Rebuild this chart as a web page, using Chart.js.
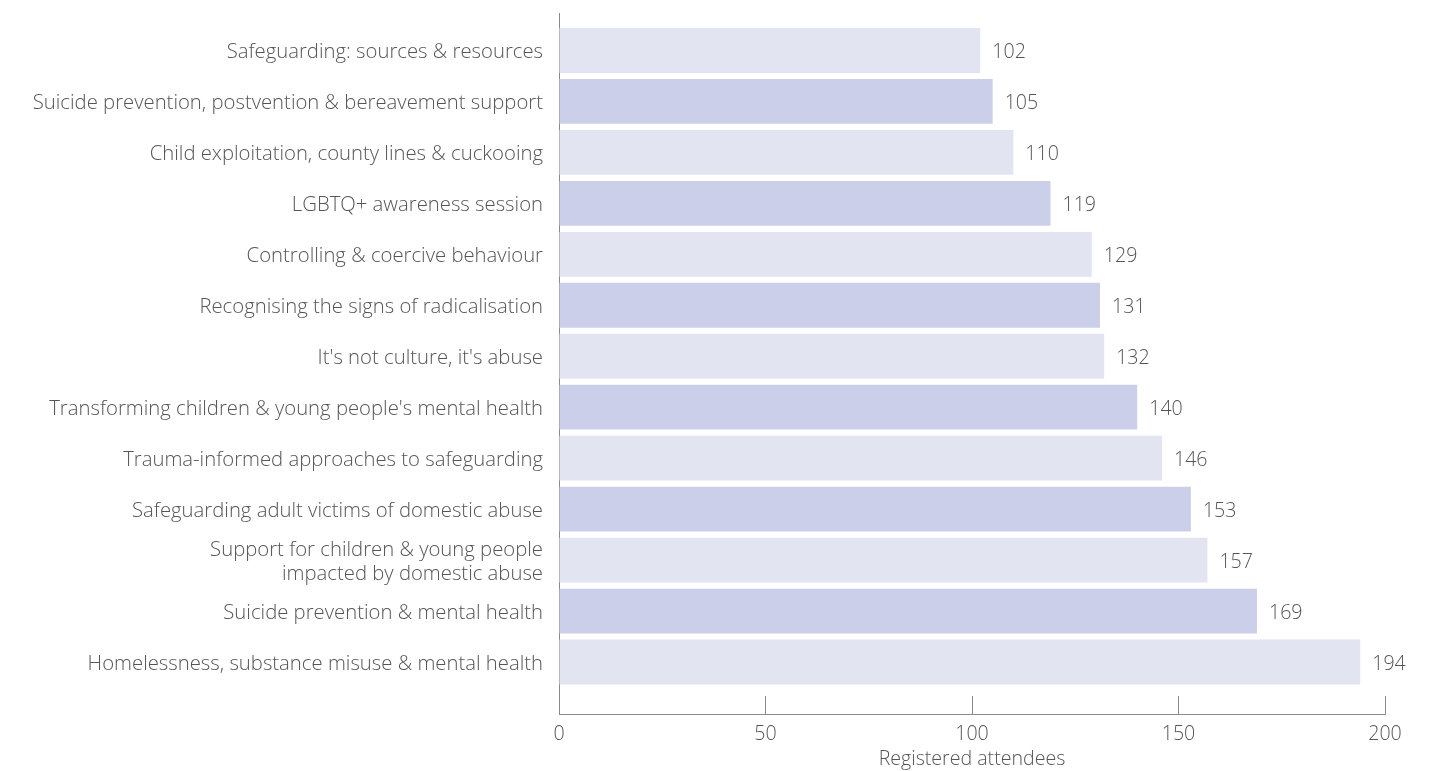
<!DOCTYPE html>
<html>
<head>
<meta charset="utf-8">
<script src="https://cdn.jsdelivr.net/npm/chart.js@4/dist/chart.umd.min.js"></script>
<style>
  html, body { margin: 0; padding: 0; background: #fff; }
  #wrap { width: 1436px; height: 771px; position: relative; }
</style>
</head>
<body>
<div id="wrap"><canvas id="chart"></canvas></div>
<script>
const topics = [
    "Safeguarding: sources & resources",
    "Suicide prevention, postvention & bereavement support",
    "Child exploitation, county lines & cuckooing",
    "LGBTQ+ awareness session",
    "Controlling & coercive behaviour",
    "Recognising the signs of radicalisation",
    "It's not culture, it's abuse",
    "Transforming children & young people's mental health",
    "Trauma-informed approaches to safeguarding",
    "Safeguarding adult victims of domestic abuse",
    ["Support for children & young people", "impacted by domestic abuse"],
    "Suicide prevention & mental health",
    "Homelessness, substance misuse & mental health"
];
const attendees = [102, 105, 110, 119, 129, 131, 132, 140, 146, 153, 157, 169, 194];
const xTicks = [0, 50, 100, 150, 200];

const lightBar = '#e2e4f2';
const darkBar = '#cbcfe9';
const textGrey = '#555555';
const fontFamily = '"Open Sans", "Liberation Sans", Arial, sans-serif';
const fontSize = 19.6;

const barColours = attendees.map((_, i) => i % 2 === 0 ? lightBar : darkBar);

const valueLabels = {
    id: 'valueLabels',
    afterDatasetsDraw(chart) {
        const ctx = chart.ctx;
        const meta = chart.getDatasetMeta(0);
        ctx.save();
        ctx.font = '300 ' + fontSize + 'px ' + fontFamily;
        ctx.fillStyle = textGrey;
        ctx.textAlign = 'left';
        ctx.textBaseline = 'middle';
        meta.data.forEach((bar, i) => {
            ctx.fillText(attendees[i], bar.x + 12, bar.y + 2);
        });
        ctx.restore();
    }
};

new Chart(document.getElementById('chart'), {
    type: 'bar',
    data: {
        datasets: [{
            data: attendees.map((v, i) => ({ x: v, y: i })),
            backgroundColor: barColours,
            borderWidth: 0,
            categoryPercentage: 0.88,
            barPercentage: 1
        }]
    },
    options: {
        indexAxis: 'y',
        responsive: true,
        maintainAspectRatio: false,
        animation: false,
        layout: { padding: { top: 13, right: 51, bottom: 0, left: 0 } },
        plugins: {
            legend: { display: false },
            tooltip: { enabled: false }
        },
        scales: {
            y: {
                type: 'linear',
                reverse: true,
                offset: false,
                min: -0.735,
                max: 13.02,
                afterBuildTicks: (scale) => {
                    scale.ticks = topics.map((_, i) => ({ value: i }));
                },
                afterFit: (scale) => {
                    scale.width = 559;
                    scale.paddingTop = 0;
                    scale.paddingBottom = 0;
                },
                grid: { offset: false, drawOnChartArea: false, drawTicks: false },
                border: { display: true, color: '#8a8a8a', width: 1 },
                ticks: {
                    autoSkip: false,
                    padding: 16,
                    labelOffset: 2,
                    color: textGrey,
                    font: { family: fontFamily, size: 20.3, weight: 300, lineHeight: 1.18 },
                    callback: (v) => topics[v]
                }
            },
            x: {
                type: 'linear',
                position: 'bottom',
                min: 0,
                max: 200,
                afterBuildTicks: (scale) => {
                    scale.ticks = xTicks.map(v => ({ value: v }));
                },
                afterFit: (scale) => { scale.height = 57; },
                grid: { drawOnChartArea: false, drawTicks: true, tickLength: -18, color: '#8a8a8a' },
                border: { display: true, color: '#8a8a8a', width: 1 },
                ticks: {
                    padding: 27,
                    color: textGrey,
                    font: { family: fontFamily, size: fontSize, weight: 300 }
                },
                title: {
                    display: true,
                    text: 'Registered attendees',
                    color: textGrey,
                    font: { family: fontFamily, size: fontSize, weight: 300 },
                    padding: { top: 0, bottom: 0 }
                }
            }
        }
    },
    plugins: [valueLabels]
});
</script>
</body>
</html>
